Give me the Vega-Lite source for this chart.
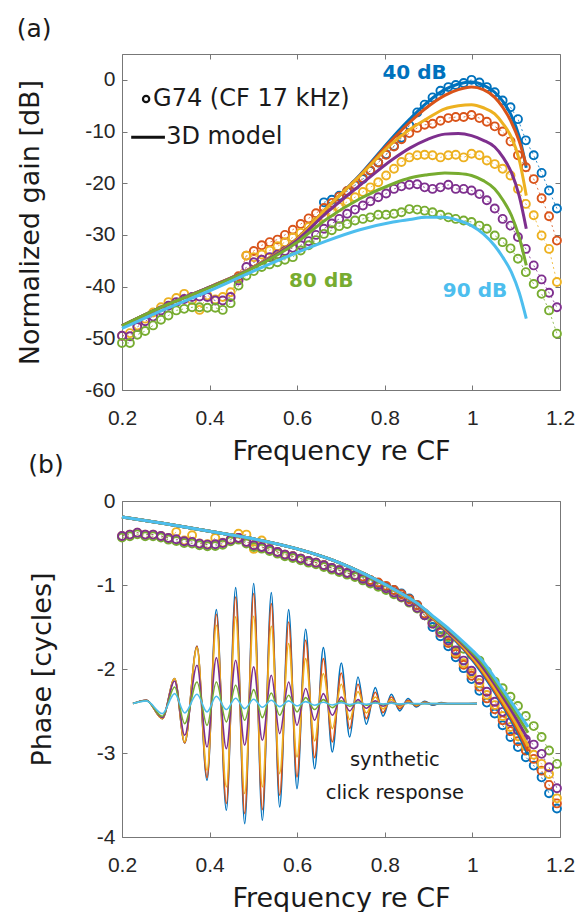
{
"$schema": "https://vega.github.io/schema/vega-lite/v6.json",
"padding": {"left": 16, "top": 16, "right": 0, "bottom": 0},
"background": "white",
"config": {
  "view": {"stroke": "#777777", "strokeWidth": 1},
  "axis": {"grid": false, "domain": false, "ticks": true, "tickColor": "#777777", "tickSize": -5, "tickWidth": 1, "labelFont": "Liberation Sans", "labelFontSize": 21, "labelColor": "#262626", "titleFont": "DejaVu Sans", "titleFontSize": 27, "titleFontWeight": "normal", "titleColor": "#1a1a1a", "labelFlush": false, "labelOverlap": false},
  "axisX": {"labelPadding": 22, "titlePadding": 10},
  "axisY": {"labelPadding": 12, "titlePadding": 40},
  "title": {"font": "DejaVu Sans", "fontSize": 25, "fontWeight": "normal", "anchor": "start", "color": "#1a1a1a"}
},
"datasets": {
"meas": [
{"s":40,"f":0.661,"g":-23.7,"p":-0.765},{"s":40,"f":0.679,"g":-23.2,"p":-0.797},{"s":40,"f":0.696,"g":-22.4,"p":-0.825},{"s":40,"f":0.714,"g":-21.6,"p":-0.857},{"s":40,"f":0.732,"g":-20.4,"p":-0.885},{"s":40,"f":0.75,"g":-19.2,"p":-0.91},{"s":40,"f":0.767,"g":-17.6,"p":-0.95},{"s":40,"f":0.785,"g":-16.0,"p":-0.98},{"s":40,"f":0.803,"g":-14.4,"p":-1.02},{"s":40,"f":0.821,"g":-12.8,"p":-1.06},{"s":40,"f":0.838,"g":-11.2,"p":-1.10},{"s":40,"f":0.856,"g":-8.8,"p":-1.16},{"s":40,"f":0.874,"g":-6.3,"p":-1.24},{"s":40,"f":0.891,"g":-4.8,"p":-1.36},{"s":40,"f":0.909,"g":-3.4,"p":-1.50},{"s":40,"f":0.927,"g":-2.1,"p":-1.61},{"s":40,"f":0.945,"g":-1.4,"p":-1.73},{"s":40,"f":0.962,"g":-1.0,"p":-1.86},{"s":40,"f":0.98,"g":-0.6,"p":-1.99},{"s":40,"f":0.998,"g":0.0,"p":-2.12},{"s":40,"f":1.016,"g":-0.5,"p":-2.26},{"s":40,"f":1.033,"g":-1.4,"p":-2.40},{"s":40,"f":1.051,"g":-2.4,"p":-2.53},{"s":40,"f":1.069,"g":-4.0,"p":-2.67},{"s":40,"f":1.087,"g":-5.3,"p":-2.81},{"s":40,"f":1.104,"g":-7.6,"p":-2.93},{"s":40,"f":1.122,"g":-11.7,"p":-3.05},{"s":40,"f":1.14,"g":-14.6,"p":-3.15},{"s":40,"f":1.158,"g":-18.0,"p":-3.29},{"s":40,"f":1.175,"g":-21.4,"p":-3.48},{"s":40,"f":1.193,"g":-24.9,"p":-3.66},
{"s":50,"f":0.466,"g":-38.0,"p":-0.44},{"s":50,"f":0.484,"g":-34.0,"p":-0.487},{"s":50,"f":0.501,"g":-33.1,"p":-0.527},{"s":50,"f":0.519,"g":-32.0,"p":-0.547},{"s":50,"f":0.537,"g":-31.4,"p":-0.575},{"s":50,"f":0.555,"g":-30.9,"p":-0.607},{"s":50,"f":0.572,"g":-30.0,"p":-0.638},{"s":50,"f":0.59,"g":-29.0,"p":-0.658},{"s":50,"f":0.608,"g":-27.9,"p":-0.686},{"s":50,"f":0.626,"g":-26.8,"p":-0.714},{"s":50,"f":0.643,"g":-25.8,"p":-0.734},{"s":50,"f":0.661,"g":-24.8,"p":-0.765},{"s":50,"f":0.679,"g":-23.8,"p":-0.797},{"s":50,"f":0.696,"g":-22.6,"p":-0.825},{"s":50,"f":0.714,"g":-21.5,"p":-0.857},{"s":50,"f":0.732,"g":-20.3,"p":-0.885},{"s":50,"f":0.75,"g":-19.0,"p":-0.90},{"s":50,"f":0.767,"g":-17.5,"p":-0.94},{"s":50,"f":0.785,"g":-16.0,"p":-0.97},{"s":50,"f":0.803,"g":-14.5,"p":-1.01},{"s":50,"f":0.821,"g":-12.9,"p":-1.06},{"s":50,"f":0.838,"g":-11.5,"p":-1.11},{"s":50,"f":0.856,"g":-10.3,"p":-1.17},{"s":50,"f":0.874,"g":-9.3,"p":-1.24},{"s":50,"f":0.891,"g":-8.7,"p":-1.34},{"s":50,"f":0.909,"g":-8.5,"p":-1.45},{"s":50,"f":0.927,"g":-7.9,"p":-1.57},{"s":50,"f":0.945,"g":-7.4,"p":-1.69},{"s":50,"f":0.962,"g":-7.2,"p":-1.82},{"s":50,"f":0.98,"g":-7.2,"p":-1.95},{"s":50,"f":0.998,"g":-6.8,"p":-2.08},{"s":50,"f":1.016,"g":-7.4,"p":-2.21},{"s":50,"f":1.033,"g":-8.1,"p":-2.35},{"s":50,"f":1.051,"g":-9.0,"p":-2.48},{"s":50,"f":1.069,"g":-10.0,"p":-2.61},{"s":50,"f":1.087,"g":-11.9,"p":-2.74},{"s":50,"f":1.104,"g":-14.6,"p":-2.86},{"s":50,"f":1.122,"g":-16.9,"p":-2.97},{"s":50,"f":1.14,"g":-19.2,"p":-3.07},{"s":50,"f":1.158,"g":-22.9,"p":-3.21},{"s":50,"f":1.175,"g":-26.4,"p":-3.38},{"s":50,"f":1.193,"g":-31.1,"p":-3.60},
{"s":60,"f":0.2,"g":-49.5,"p":-0.416},{"s":60,"f":0.218,"g":-49.0,"p":-0.4},{"s":60,"f":0.235,"g":-47.5,"p":-0.377},{"s":60,"f":0.253,"g":-46.2,"p":-0.4},{"s":60,"f":0.271,"g":-45.0,"p":-0.4},{"s":60,"f":0.289,"g":-44.0,"p":-0.416},{"s":60,"f":0.306,"g":-43.0,"p":-0.44},{"s":60,"f":0.324,"g":-42.2,"p":-0.37},{"s":60,"f":0.342,"g":-41.4,"p":-0.47},{"s":60,"f":0.36,"g":-42.6,"p":-0.408},{"s":60,"f":0.377,"g":-44.5,"p":-0.505},{"s":60,"f":0.395,"g":-41.7,"p":-0.515},{"s":60,"f":0.413,"g":-42.5,"p":-0.44},{"s":60,"f":0.43,"g":-42.0,"p":-0.495},{"s":60,"f":0.448,"g":-41.1,"p":-0.455},{"s":60,"f":0.466,"g":-38.5,"p":-0.39},{"s":60,"f":0.484,"g":-34.0,"p":-0.4},{"s":60,"f":0.501,"g":-34.3,"p":-0.57},{"s":60,"f":0.519,"g":-33.8,"p":-0.47},{"s":60,"f":0.537,"g":-33.0,"p":-0.575},{"s":60,"f":0.555,"g":-32.2,"p":-0.607},{"s":60,"f":0.572,"g":-31.4,"p":-0.638},{"s":60,"f":0.59,"g":-30.5,"p":-0.658},{"s":60,"f":0.608,"g":-29.6,"p":-0.686},{"s":60,"f":0.626,"g":-28.5,"p":-0.714},{"s":60,"f":0.643,"g":-27.5,"p":-0.734},{"s":60,"f":0.661,"g":-26.5,"p":-0.765},{"s":60,"f":0.679,"g":-25.6,"p":-0.797},{"s":60,"f":0.696,"g":-24.6,"p":-0.825},{"s":60,"f":0.714,"g":-23.6,"p":-0.857},{"s":60,"f":0.732,"g":-22.7,"p":-0.885},{"s":60,"f":0.75,"g":-21.7,"p":-0.925},{"s":60,"f":0.767,"g":-20.8,"p":-0.963},{"s":60,"f":0.785,"g":-19.8,"p":-1.0},{"s":60,"f":0.803,"g":-18.5,"p":-1.04},{"s":60,"f":0.821,"g":-17.2,"p":-1.09},{"s":60,"f":0.838,"g":-15.9,"p":-1.14},{"s":60,"f":0.856,"g":-15.0,"p":-1.2},{"s":60,"f":0.874,"g":-14.6,"p":-1.27},{"s":60,"f":0.891,"g":-14.5,"p":-1.36},{"s":60,"f":0.909,"g":-14.6,"p":-1.46},{"s":60,"f":0.927,"g":-15.0,"p":-1.56},{"s":60,"f":0.945,"g":-14.6,"p":-1.67},{"s":60,"f":0.962,"g":-14.5,"p":-1.8},{"s":60,"f":0.98,"g":-15.0,"p":-1.93},{"s":60,"f":0.998,"g":-14.3,"p":-2.05},{"s":60,"f":1.016,"g":-14.6,"p":-2.17},{"s":60,"f":1.033,"g":-15.6,"p":-2.31},{"s":60,"f":1.051,"g":-16.3,"p":-2.43},{"s":60,"f":1.069,"g":-17.2,"p":-2.56},{"s":60,"f":1.087,"g":-18.5,"p":-2.69},{"s":60,"f":1.104,"g":-21.1,"p":-2.8},{"s":60,"f":1.122,"g":-24.0,"p":-2.92},{"s":60,"f":1.14,"g":-26.2,"p":-3.02},{"s":60,"f":1.158,"g":-30.1,"p":-3.13},{"s":60,"f":1.175,"g":-32.7,"p":-3.25},{"s":60,"f":1.193,"g":-39.1,"p":-3.54},
{"s":70,"f":0.2,"g":-49.5,"p":-0.416},{"s":70,"f":0.218,"g":-49.6,"p":-0.4},{"s":70,"f":0.235,"g":-47.8,"p":-0.377},{"s":70,"f":0.253,"g":-46.7,"p":-0.4},{"s":70,"f":0.271,"g":-45.8,"p":-0.4},{"s":70,"f":0.289,"g":-44.6,"p":-0.416},{"s":70,"f":0.306,"g":-43.7,"p":-0.44},{"s":70,"f":0.324,"g":-43.0,"p":-0.456},{"s":70,"f":0.342,"g":-42.4,"p":-0.48},{"s":70,"f":0.36,"g":-42.0,"p":-0.487},{"s":70,"f":0.377,"g":-41.9,"p":-0.507},{"s":70,"f":0.395,"g":-42.0,"p":-0.519},{"s":70,"f":0.413,"g":-42.7,"p":-0.515},{"s":70,"f":0.43,"g":-42.7,"p":-0.5},{"s":70,"f":0.448,"g":-42.0,"p":-0.46},{"s":70,"f":0.466,"g":-38.8,"p":-0.44},{"s":70,"f":0.484,"g":-36.2,"p":-0.487},{"s":70,"f":0.501,"g":-35.3,"p":-0.527},{"s":70,"f":0.519,"g":-34.8,"p":-0.547},{"s":70,"f":0.537,"g":-34.3,"p":-0.575},{"s":70,"f":0.555,"g":-33.8,"p":-0.607},{"s":70,"f":0.572,"g":-33.1,"p":-0.638},{"s":70,"f":0.59,"g":-32.5,"p":-0.658},{"s":70,"f":0.608,"g":-32.0,"p":-0.686},{"s":70,"f":0.626,"g":-31.2,"p":-0.714},{"s":70,"f":0.643,"g":-30.0,"p":-0.734},{"s":70,"f":0.661,"g":-28.8,"p":-0.765},{"s":70,"f":0.679,"g":-27.8,"p":-0.797},{"s":70,"f":0.696,"g":-26.9,"p":-0.825},{"s":70,"f":0.714,"g":-25.9,"p":-0.857},{"s":70,"f":0.732,"g":-25.1,"p":-0.885},{"s":70,"f":0.75,"g":-24.3,"p":-0.925},{"s":70,"f":0.767,"g":-23.5,"p":-0.963},{"s":70,"f":0.785,"g":-22.7,"p":-1.0},{"s":70,"f":0.803,"g":-22.0,"p":-1.04},{"s":70,"f":0.821,"g":-21.1,"p":-1.09},{"s":70,"f":0.838,"g":-20.6,"p":-1.14},{"s":70,"f":0.856,"g":-20.3,"p":-1.2},{"s":70,"f":0.874,"g":-20.2,"p":-1.27},{"s":70,"f":0.891,"g":-20.8,"p":-1.36},{"s":70,"f":0.909,"g":-21.1,"p":-1.46},{"s":70,"f":0.927,"g":-20.8,"p":-1.56},{"s":70,"f":0.945,"g":-20.3,"p":-1.66},{"s":70,"f":0.962,"g":-21.1,"p":-1.78},{"s":70,"f":0.98,"g":-21.1,"p":-1.9},{"s":70,"f":0.998,"g":-21.4,"p":-2.02},{"s":70,"f":1.016,"g":-22.1,"p":-2.13},{"s":70,"f":1.033,"g":-23.3,"p":-2.27},{"s":70,"f":1.051,"g":-24.9,"p":-2.39},{"s":70,"f":1.069,"g":-26.9,"p":-2.51},{"s":70,"f":1.087,"g":-28.2,"p":-2.63},{"s":70,"f":1.104,"g":-30.4,"p":-2.73},{"s":70,"f":1.122,"g":-32.7,"p":-2.84},{"s":70,"f":1.14,"g":-35.9,"p":-2.9},{"s":70,"f":1.158,"g":-38.6,"p":-3.01},{"s":70,"f":1.175,"g":-41.2,"p":-3.17},{"s":70,"f":1.193,"g":-44.0,"p":-3.42},
{"s":80,"f":0.2,"g":-50.9,"p":-0.436},{"s":80,"f":0.218,"g":-50.9,"p":-0.42},{"s":80,"f":0.235,"g":-49.3,"p":-0.397},{"s":80,"f":0.253,"g":-48.6,"p":-0.42},{"s":80,"f":0.271,"g":-47.5,"p":-0.42},{"s":80,"f":0.289,"g":-46.4,"p":-0.436},{"s":80,"f":0.306,"g":-45.6,"p":-0.46},{"s":80,"f":0.324,"g":-44.6,"p":-0.476},{"s":80,"f":0.342,"g":-44.3,"p":-0.5},{"s":80,"f":0.36,"g":-44.0,"p":-0.507},{"s":80,"f":0.377,"g":-44.0,"p":-0.527},{"s":80,"f":0.395,"g":-44.1,"p":-0.539},{"s":80,"f":0.413,"g":-44.1,"p":-0.535},{"s":80,"f":0.43,"g":-44.5,"p":-0.52},{"s":80,"f":0.448,"g":-43.2,"p":-0.48},{"s":80,"f":0.466,"g":-39.8,"p":-0.46},{"s":80,"f":0.484,"g":-37.9,"p":-0.507},{"s":80,"f":0.501,"g":-37.0,"p":-0.547},{"s":80,"f":0.519,"g":-36.2,"p":-0.567},{"s":80,"f":0.537,"g":-35.7,"p":-0.595},{"s":80,"f":0.555,"g":-35.3,"p":-0.627},{"s":80,"f":0.572,"g":-34.8,"p":-0.658},{"s":80,"f":0.59,"g":-34.3,"p":-0.678},{"s":80,"f":0.608,"g":-33.0,"p":-0.706},{"s":80,"f":0.626,"g":-32.0,"p":-0.734},{"s":80,"f":0.643,"g":-31.0,"p":-0.754},{"s":80,"f":0.661,"g":-29.8,"p":-0.785},{"s":80,"f":0.679,"g":-29.1,"p":-0.817},{"s":80,"f":0.696,"g":-28.3,"p":-0.845},{"s":80,"f":0.714,"g":-27.9,"p":-0.877},{"s":80,"f":0.732,"g":-27.2,"p":-0.905},{"s":80,"f":0.75,"g":-26.9,"p":-0.945},{"s":80,"f":0.767,"g":-26.6,"p":-0.983},{"s":80,"f":0.785,"g":-26.1,"p":-1.02},{"s":80,"f":0.803,"g":-26.1,"p":-1.06},{"s":80,"f":0.821,"g":-25.9,"p":-1.11},{"s":80,"f":0.838,"g":-25.6,"p":-1.15},{"s":80,"f":0.856,"g":-25.0,"p":-1.21},{"s":80,"f":0.874,"g":-25.1,"p":-1.28},{"s":80,"f":0.891,"g":-25.3,"p":-1.36},{"s":80,"f":0.909,"g":-25.6,"p":-1.44},{"s":80,"f":0.927,"g":-26.1,"p":-1.53},{"s":80,"f":0.945,"g":-26.6,"p":-1.62},{"s":80,"f":0.962,"g":-26.9,"p":-1.7},{"s":80,"f":0.98,"g":-27.2,"p":-1.76},{"s":80,"f":0.998,"g":-27.5,"p":-1.83},{"s":80,"f":1.016,"g":-28.2,"p":-1.9},{"s":80,"f":1.033,"g":-28.8,"p":-2.03},{"s":80,"f":1.051,"g":-30.1,"p":-2.15},{"s":80,"f":1.069,"g":-31.4,"p":-2.23},{"s":80,"f":1.087,"g":-32.6,"p":-2.33},{"s":80,"f":1.104,"g":-34.6,"p":-2.44},{"s":80,"f":1.122,"g":-37.2,"p":-2.56},{"s":80,"f":1.14,"g":-39.5,"p":-2.68},{"s":80,"f":1.158,"g":-41.4,"p":-2.81},{"s":80,"f":1.175,"g":-44.6,"p":-2.97},{"s":80,"f":1.193,"g":-49.1,"p":-3.13}
],
"gm": [
{"s":40,"f":0.2,"g":-47.6},{"s":40,"f":0.3,"g":-43.6},{"s":40,"f":0.4,"g":-40.1},{"s":40,"f":0.5,"g":-36.2},{"s":40,"f":0.6,"g":-30.7},{"s":40,"f":0.666,"g":-24.9},{"s":40,"f":0.743,"g":-18.4},{"s":40,"f":0.819,"g":-11.0},{"s":40,"f":0.857,"g":-7.6},{"s":40,"f":0.895,"g":-4.5},{"s":40,"f":0.937,"g":-1.9},{"s":40,"f":0.968,"g":-0.8},{"s":40,"f":0.998,"g":-0.4},{"s":40,"f":1.025,"g":-1.0},{"s":40,"f":1.051,"g":-2.4},{"s":40,"f":1.07,"g":-4.2},{"s":40,"f":1.089,"g":-6.9},{"s":40,"f":1.107,"g":-11.0},{"s":40,"f":1.123,"g":-17.0},
{"s":50,"f":0.2,"g":-47.6},{"s":50,"f":0.3,"g":-43.6},{"s":50,"f":0.4,"g":-40.1},{"s":50,"f":0.5,"g":-36.2},{"s":50,"f":0.6,"g":-30.7},{"s":50,"f":0.666,"g":-24.9},{"s":50,"f":0.743,"g":-18.5},{"s":50,"f":0.819,"g":-11.4},{"s":50,"f":0.857,"g":-8.2},{"s":50,"f":0.895,"g":-5.4},{"s":50,"f":0.937,"g":-3.0},{"s":50,"f":0.968,"g":-1.9},{"s":50,"f":0.998,"g":-1.4},{"s":50,"f":1.025,"g":-1.9},{"s":50,"f":1.051,"g":-3.4},{"s":50,"f":1.07,"g":-5.4},{"s":50,"f":1.089,"g":-8.2},{"s":50,"f":1.107,"g":-11.9},{"s":50,"f":1.123,"g":-16.6},
{"s":60,"f":0.2,"g":-47.6},{"s":60,"f":0.3,"g":-43.6},{"s":60,"f":0.4,"g":-40.1},{"s":60,"f":0.5,"g":-36.2},{"s":60,"f":0.6,"g":-30.8},{"s":60,"f":0.666,"g":-24.9},{"s":60,"f":0.743,"g":-18.6},{"s":60,"f":0.819,"g":-12.1},{"s":60,"f":0.857,"g":-9.6},{"s":60,"f":0.895,"g":-7.6},{"s":60,"f":0.937,"g":-5.6},{"s":60,"f":0.968,"g":-5.0},{"s":60,"f":0.998,"g":-4.8},{"s":60,"f":1.025,"g":-5.4},{"s":60,"f":1.051,"g":-6.6},{"s":60,"f":1.07,"g":-8.5},{"s":60,"f":1.089,"g":-11.1},{"s":60,"f":1.107,"g":-15.5},{"s":60,"f":1.123,"g":-22.4},
{"s":70,"f":0.2,"g":-47.6},{"s":70,"f":0.3,"g":-43.6},{"s":70,"f":0.4,"g":-40.1},{"s":70,"f":0.5,"g":-36.3},{"s":70,"f":0.6,"g":-31.0},{"s":70,"f":0.666,"g":-25.8},{"s":70,"f":0.743,"g":-20.4},{"s":70,"f":0.819,"g":-15.3},{"s":70,"f":0.857,"g":-13.2},{"s":70,"f":0.895,"g":-11.6},{"s":70,"f":0.937,"g":-10.5},{"s":70,"f":0.968,"g":-10.4},{"s":70,"f":0.998,"g":-10.8},{"s":70,"f":1.025,"g":-11.7},{"s":70,"f":1.051,"g":-13.0},{"s":70,"f":1.07,"g":-15.0},{"s":70,"f":1.089,"g":-17.9},{"s":70,"f":1.107,"g":-22.5},{"s":70,"f":1.123,"g":-28.8},
{"s":80,"f":0.2,"g":-47.6},{"s":80,"f":0.3,"g":-43.6},{"s":80,"f":0.4,"g":-40.2},{"s":80,"f":0.5,"g":-36.4},{"s":80,"f":0.6,"g":-31.4},{"s":80,"f":0.666,"g":-27.0},{"s":80,"f":0.743,"g":-23.0},{"s":80,"f":0.819,"g":-20.1},{"s":80,"f":0.857,"g":-19.0},{"s":80,"f":0.895,"g":-18.4},{"s":80,"f":0.937,"g":-18.0},{"s":80,"f":0.968,"g":-18.1},{"s":80,"f":0.998,"g":-18.5},{"s":80,"f":1.025,"g":-19.5},{"s":80,"f":1.051,"g":-21.1},{"s":80,"f":1.07,"g":-23.3},{"s":80,"f":1.089,"g":-26.2},{"s":80,"f":1.107,"g":-30.5},{"s":80,"f":1.123,"g":-35.9},
{"s":90,"f":0.2,"g":-48.1},{"s":90,"f":0.3,"g":-44.3},{"s":90,"f":0.4,"g":-40.8},{"s":90,"f":0.5,"g":-37.0},{"s":90,"f":0.6,"g":-33.4},{"s":90,"f":0.666,"g":-31.2},{"s":90,"f":0.743,"g":-29.0},{"s":90,"f":0.819,"g":-27.5},{"s":90,"f":0.857,"g":-27.0},{"s":90,"f":0.895,"g":-26.6},{"s":90,"f":0.937,"g":-26.6},{"s":90,"f":0.968,"g":-27.2},{"s":90,"f":0.998,"g":-28.2},{"s":90,"f":1.025,"g":-29.8},{"s":90,"f":1.051,"g":-32.1},{"s":90,"f":1.07,"g":-34.4},{"s":90,"f":1.089,"g":-37.2},{"s":90,"f":1.107,"g":-41.2},{"s":90,"f":1.123,"g":-46.2}
],
"pm": [
{"s":40,"f":0.2,"p":-0.19},{"s":40,"f":0.3,"p":-0.27},{"s":40,"f":0.4,"p":-0.36},{"s":40,"f":0.5,"p":-0.45},{"s":40,"f":0.6,"p":-0.57},{"s":40,"f":0.684,"p":-0.71},{"s":40,"f":0.758,"p":-0.88},{"s":40,"f":0.834,"p":-1.10},{"s":40,"f":0.872,"p":-1.23},{"s":40,"f":0.91,"p":-1.40},{"s":40,"f":0.948,"p":-1.59},{"s":40,"f":0.986,"p":-1.80},{"s":40,"f":1.024,"p":-2.06},{"s":40,"f":1.062,"p":-2.37},{"s":40,"f":1.1,"p":-2.72},{"s":40,"f":1.127,"p":-3.02},
{"s":50,"f":0.2,"p":-0.19},{"s":50,"f":0.3,"p":-0.27},{"s":50,"f":0.4,"p":-0.36},{"s":50,"f":0.5,"p":-0.45},{"s":50,"f":0.6,"p":-0.57},{"s":50,"f":0.684,"p":-0.71},{"s":50,"f":0.758,"p":-0.88},{"s":50,"f":0.834,"p":-1.10},{"s":50,"f":0.872,"p":-1.23},{"s":50,"f":0.91,"p":-1.40},{"s":50,"f":0.948,"p":-1.58},{"s":50,"f":0.986,"p":-1.79},{"s":50,"f":1.024,"p":-2.04},{"s":50,"f":1.062,"p":-2.35},{"s":50,"f":1.1,"p":-2.69},{"s":50,"f":1.127,"p":-2.98},
{"s":60,"f":0.2,"p":-0.19},{"s":60,"f":0.3,"p":-0.27},{"s":60,"f":0.4,"p":-0.36},{"s":60,"f":0.5,"p":-0.45},{"s":60,"f":0.6,"p":-0.57},{"s":60,"f":0.684,"p":-0.71},{"s":60,"f":0.758,"p":-0.88},{"s":60,"f":0.834,"p":-1.10},{"s":60,"f":0.872,"p":-1.22},{"s":60,"f":0.91,"p":-1.39},{"s":60,"f":0.948,"p":-1.57},{"s":60,"f":0.986,"p":-1.77},{"s":60,"f":1.024,"p":-2.02},{"s":60,"f":1.062,"p":-2.32},{"s":60,"f":1.1,"p":-2.65},{"s":60,"f":1.127,"p":-2.92},
{"s":70,"f":0.2,"p":-0.19},{"s":70,"f":0.3,"p":-0.27},{"s":70,"f":0.4,"p":-0.36},{"s":70,"f":0.5,"p":-0.45},{"s":70,"f":0.6,"p":-0.57},{"s":70,"f":0.684,"p":-0.71},{"s":70,"f":0.758,"p":-0.88},{"s":70,"f":0.834,"p":-1.09},{"s":70,"f":0.872,"p":-1.22},{"s":70,"f":0.91,"p":-1.38},{"s":70,"f":0.948,"p":-1.56},{"s":70,"f":0.986,"p":-1.75},{"s":70,"f":1.024,"p":-1.98},{"s":70,"f":1.062,"p":-2.27},{"s":70,"f":1.1,"p":-2.59},{"s":70,"f":1.127,"p":-2.84},
{"s":80,"f":0.2,"p":-0.19},{"s":80,"f":0.3,"p":-0.27},{"s":80,"f":0.4,"p":-0.36},{"s":80,"f":0.5,"p":-0.45},{"s":80,"f":0.6,"p":-0.57},{"s":80,"f":0.684,"p":-0.71},{"s":80,"f":0.758,"p":-0.88},{"s":80,"f":0.834,"p":-1.09},{"s":80,"f":0.872,"p":-1.21},{"s":80,"f":0.91,"p":-1.38},{"s":80,"f":0.948,"p":-1.54},{"s":80,"f":0.986,"p":-1.73},{"s":80,"f":1.024,"p":-1.94},{"s":80,"f":1.062,"p":-2.23},{"s":80,"f":1.1,"p":-2.53},{"s":80,"f":1.127,"p":-2.76},
{"s":90,"f":0.2,"p":-0.19},{"s":90,"f":0.3,"p":-0.27},{"s":90,"f":0.4,"p":-0.36},{"s":90,"f":0.5,"p":-0.45},{"s":90,"f":0.6,"p":-0.57},{"s":90,"f":0.684,"p":-0.71},{"s":90,"f":0.758,"p":-0.88},{"s":90,"f":0.834,"p":-1.09},{"s":90,"f":0.872,"p":-1.21},{"s":90,"f":0.91,"p":-1.37},{"s":90,"f":0.948,"p":-1.53},{"s":90,"f":0.986,"p":-1.71},{"s":90,"f":1.024,"p":-1.91},{"s":90,"f":1.062,"p":-2.19},{"s":90,"f":1.1,"p":-2.48},{"s":90,"f":1.127,"p":-2.69}
],
"clk": [
{"s":40,"f":0.2251,"p":-2.412},{"s":40,"f":0.2556,"p":-2.372},{"s":40,"f":0.2921,"p":-2.591},{"s":40,"f":0.3202,"p":-2.114},{"s":40,"f":0.3431,"p":-2.88},{"s":40,"f":0.3712,"p":-1.729},{"s":40,"f":0.3941,"p":-3.325},{"s":40,"f":0.4154,"p":-1.293},{"s":40,"f":0.4382,"p":-3.682},{"s":40,"f":0.4595,"p":-1.031},{"s":40,"f":0.4801,"p":-3.841},{"s":40,"f":0.5006,"p":-0.983},{"s":40,"f":0.5204,"p":-3.801},{"s":40,"f":0.5409,"p":-1.091},{"s":40,"f":0.56,"p":-3.642},{"s":40,"f":0.5805,"p":-1.293},{"s":40,"f":0.5995,"p":-3.424},{"s":40,"f":0.6193,"p":-1.527},{"s":40,"f":0.6398,"p":-3.186},{"s":40,"f":0.6597,"p":-1.745},{"s":40,"f":0.6802,"p":-2.987},{"s":40,"f":0.7007,"p":-1.928},{"s":40,"f":0.7198,"p":-2.809},{"s":40,"f":0.7388,"p":-2.095},{"s":40,"f":0.7578,"p":-2.658},{"s":40,"f":0.7784,"p":-2.222},{"s":40,"f":0.7959,"p":-2.563},{"s":40,"f":0.8149,"p":-2.301},{"s":40,"f":0.8339,"p":-2.499},{"s":40,"f":0.853,"p":-2.352},{"s":40,"f":0.872,"p":-2.452},{"s":40,"f":0.891,"p":-2.384},{"s":40,"f":0.91,"p":-2.432},{"s":40,"f":0.9291,"p":-2.4},{"s":40,"f":0.9481,"p":-2.42},{"s":40,"f":1.0105,"p":-2.412},
{"s":50,"f":0.2251,"p":-2.412},{"s":50,"f":0.2556,"p":-2.372},{"s":50,"f":0.2921,"p":-2.591},{"s":50,"f":0.3202,"p":-2.114},{"s":50,"f":0.3431,"p":-2.88},{"s":50,"f":0.3712,"p":-1.729},{"s":50,"f":0.3941,"p":-3.293},{"s":50,"f":0.4154,"p":-1.349},{"s":50,"f":0.4382,"p":-3.602},{"s":50,"f":0.4595,"p":-1.142},{"s":50,"f":0.4801,"p":-3.722},{"s":50,"f":0.5006,"p":-1.102},{"s":50,"f":0.5204,"p":-3.674},{"s":50,"f":0.5409,"p":-1.222},{"s":50,"f":0.56,"p":-3.503},{"s":50,"f":0.5805,"p":-1.44},{"s":50,"f":0.5995,"p":-3.285},{"s":50,"f":0.6193,"p":-1.658},{"s":50,"f":0.6398,"p":-3.055},{"s":50,"f":0.6597,"p":-1.876},{"s":50,"f":0.6802,"p":-2.868},{"s":50,"f":0.7007,"p":-2.047},{"s":50,"f":0.7198,"p":-2.71},{"s":50,"f":0.7388,"p":-2.182},{"s":50,"f":0.7578,"p":-2.591},{"s":50,"f":0.7784,"p":-2.277},{"s":50,"f":0.7959,"p":-2.519},{"s":50,"f":0.8149,"p":-2.333},{"s":50,"f":0.8339,"p":-2.472},{"s":50,"f":0.853,"p":-2.372},{"s":50,"f":0.872,"p":-2.44},{"s":50,"f":0.891,"p":-2.392},{"s":50,"f":0.91,"p":-2.424},{"s":50,"f":0.9291,"p":-2.404},{"s":50,"f":0.9481,"p":-2.416},{"s":50,"f":1.0105,"p":-2.412},
{"s":60,"f":0.2251,"p":-2.412},{"s":60,"f":0.2556,"p":-2.372},{"s":60,"f":0.2921,"p":-2.591},{"s":60,"f":0.3202,"p":-2.114},{"s":60,"f":0.3431,"p":-2.868},{"s":60,"f":0.3712,"p":-1.745},{"s":60,"f":0.3941,"p":-3.206},{"s":60,"f":0.4154,"p":-1.479},{"s":60,"f":0.4382,"p":-3.404},{"s":60,"f":0.4595,"p":-1.38},{"s":60,"f":0.4801,"p":-3.483},{"s":60,"f":0.5006,"p":-1.372},{"s":60,"f":0.5204,"p":-3.404},{"s":60,"f":0.5409,"p":-1.491},{"s":60,"f":0.56,"p":-3.245},{"s":60,"f":0.5805,"p":-1.698},{"s":60,"f":0.5995,"p":-3.047},{"s":60,"f":0.6193,"p":-1.876},{"s":60,"f":0.6398,"p":-2.856},{"s":60,"f":0.6597,"p":-2.055},{"s":60,"f":0.6802,"p":-2.71},{"s":60,"f":0.7007,"p":-2.182},{"s":60,"f":0.7198,"p":-2.602},{"s":60,"f":0.7388,"p":-2.269},{"s":60,"f":0.7578,"p":-2.523},{"s":60,"f":0.7784,"p":-2.333},{"s":60,"f":0.7959,"p":-2.475},{"s":60,"f":0.8149,"p":-2.364},{"s":60,"f":0.8339,"p":-2.448},{"s":60,"f":0.853,"p":-2.388},{"s":60,"f":0.872,"p":-2.428},{"s":60,"f":0.891,"p":-2.4},{"s":60,"f":0.91,"p":-2.42},{"s":60,"f":0.9291,"p":-2.408},{"s":60,"f":0.9481,"p":-2.416},{"s":60,"f":1.0105,"p":-2.412},
{"s":70,"f":0.2251,"p":-2.412},{"s":70,"f":0.2556,"p":-2.372},{"s":70,"f":0.2921,"p":-2.579},{"s":70,"f":0.3202,"p":-2.142},{"s":70,"f":0.3431,"p":-2.789},{"s":70,"f":0.3712,"p":-1.956},{"s":70,"f":0.3941,"p":-2.928},{"s":70,"f":0.4154,"p":-1.864},{"s":70,"f":0.4382,"p":-2.948},{"s":70,"f":0.4595,"p":-1.896},{"s":70,"f":0.4801,"p":-2.908},{"s":70,"f":0.5006,"p":-1.975},{"s":70,"f":0.5204,"p":-2.849},{"s":70,"f":0.5409,"p":-2.075},{"s":70,"f":0.56,"p":-2.769},{"s":70,"f":0.5805,"p":-2.154},{"s":70,"f":0.5995,"p":-2.67},{"s":70,"f":0.6193,"p":-2.233},{"s":70,"f":0.6398,"p":-2.61},{"s":70,"f":0.6597,"p":-2.293},{"s":70,"f":0.6802,"p":-2.551},{"s":70,"f":0.7007,"p":-2.333},{"s":70,"f":0.7198,"p":-2.499},{"s":70,"f":0.7388,"p":-2.364},{"s":70,"f":0.7578,"p":-2.468},{"s":70,"f":0.7784,"p":-2.38},{"s":70,"f":0.7959,"p":-2.444},{"s":70,"f":0.8149,"p":-2.392},{"s":70,"f":0.8339,"p":-2.428},{"s":70,"f":0.853,"p":-2.4},{"s":70,"f":0.872,"p":-2.42},{"s":70,"f":0.891,"p":-2.408},{"s":70,"f":0.91,"p":-2.416},{"s":70,"f":0.9291,"p":-2.412},{"s":70,"f":0.9481,"p":-2.412},{"s":70,"f":1.0105,"p":-2.412},
{"s":80,"f":0.2251,"p":-2.412},{"s":80,"f":0.2556,"p":-2.376},{"s":80,"f":0.2921,"p":-2.563},{"s":80,"f":0.3202,"p":-2.214},{"s":80,"f":0.3431,"p":-2.65},{"s":80,"f":0.3712,"p":-2.154},{"s":80,"f":0.3941,"p":-2.67},{"s":80,"f":0.4154,"p":-2.154},{"s":80,"f":0.4382,"p":-2.63},{"s":80,"f":0.4595,"p":-2.194},{"s":80,"f":0.4801,"p":-2.61},{"s":80,"f":0.5006,"p":-2.245},{"s":80,"f":0.5204,"p":-2.579},{"s":80,"f":0.5409,"p":-2.285},{"s":80,"f":0.56,"p":-2.551},{"s":80,"f":0.5805,"p":-2.313},{"s":80,"f":0.5995,"p":-2.511},{"s":80,"f":0.6193,"p":-2.341},{"s":80,"f":0.6398,"p":-2.483},{"s":80,"f":0.6597,"p":-2.364},{"s":80,"f":0.6802,"p":-2.46},{"s":80,"f":0.7007,"p":-2.38},{"s":80,"f":0.7198,"p":-2.444},{"s":80,"f":0.7388,"p":-2.392},{"s":80,"f":0.7578,"p":-2.432},{"s":80,"f":0.7784,"p":-2.4},{"s":80,"f":0.7959,"p":-2.424},{"s":80,"f":0.8149,"p":-2.404},{"s":80,"f":0.8339,"p":-2.42},{"s":80,"f":0.853,"p":-2.408},{"s":80,"f":0.872,"p":-2.416},{"s":80,"f":0.891,"p":-2.412},{"s":80,"f":0.91,"p":-2.412},{"s":80,"f":0.9291,"p":-2.412},{"s":80,"f":0.9481,"p":-2.412},{"s":80,"f":1.0105,"p":-2.412},
{"s":90,"f":0.2251,"p":-2.412},{"s":90,"f":0.2556,"p":-2.38},{"s":90,"f":0.2921,"p":-2.531},{"s":90,"f":0.3202,"p":-2.293},{"s":90,"f":0.3431,"p":-2.523},{"s":90,"f":0.3712,"p":-2.301},{"s":90,"f":0.3941,"p":-2.511},{"s":90,"f":0.4154,"p":-2.325},{"s":90,"f":0.4382,"p":-2.483},{"s":90,"f":0.4595,"p":-2.349},{"s":90,"f":0.4801,"p":-2.472},{"s":90,"f":0.5006,"p":-2.36},{"s":90,"f":0.5204,"p":-2.456},{"s":90,"f":0.5409,"p":-2.372},{"s":90,"f":0.56,"p":-2.448},{"s":90,"f":0.5805,"p":-2.38},{"s":90,"f":0.5995,"p":-2.44},{"s":90,"f":0.6193,"p":-2.388},{"s":90,"f":0.6398,"p":-2.432},{"s":90,"f":0.6597,"p":-2.396},{"s":90,"f":0.6802,"p":-2.428},{"s":90,"f":0.7007,"p":-2.4},{"s":90,"f":0.7198,"p":-2.424},{"s":90,"f":0.7388,"p":-2.404},{"s":90,"f":0.7578,"p":-2.42},{"s":90,"f":0.7784,"p":-2.404},{"s":90,"f":0.7959,"p":-2.416},{"s":90,"f":0.8149,"p":-2.408},{"s":90,"f":0.8339,"p":-2.416},{"s":90,"f":0.853,"p":-2.408},{"s":90,"f":0.872,"p":-2.412},{"s":90,"f":0.891,"p":-2.412},{"s":90,"f":0.91,"p":-2.412},{"s":90,"f":0.9291,"p":-2.412},{"s":90,"f":0.9481,"p":-2.412},{"s":90,"f":1.0105,"p":-2.412}
]
},
"spacing": -13,
"vconcat": [
{
  "width": 438, "height": 336,
  "title": {"text": "(a)", "dx": 0, "offset": 12},
  "encoding": {
    "x": {"field": "f", "type": "quantitative", "scale": {"domain": [0.2, 1.2], "nice": false, "zero": false}, "axis": null},
    "y": {"field": "g", "type": "quantitative", "scale": {"domain": [-60, 5], "nice": false, "zero": false}, "axis": null}
  },
  "layer": [
    {"data": {"name": "meas"},
     "mark": {"type": "line", "strokeWidth": 0.8, "strokeDash": [2, 3]},
     "encoding": {
       "x": {"field": "f", "type": "quantitative", "scale": {"domain": [0.2, 1.2], "nice": false, "zero": false}, "axis": {"orient": "bottom", "values": [0.2,0.4,0.6,0.8,1,1.2], "format": "~g", "title": "Frequency re CF"}},
       "y": {"field": "g", "type": "quantitative", "scale": {"domain": [-60, 5], "nice": false, "zero": false}, "axis": {"orient": "left", "values": [-60,-50,-40,-30,-20,-10,0], "labelExpr": "replace(datum.label, '\u2212', '-')", "title": "Normalized gain [dB]"}},
       "color": {"field": "s", "type": "nominal", "scale": {"domain": [40,50,60,70,80,90], "range": ["#0072BD","#D95319","#EDB120","#7E2F8E","#77AC30","#4DBEEE"]}, "legend": null}
     }},
    {"data": {"name": "meas"},
     "mark": {"type": "point", "filled": false, "size": 64, "strokeWidth": 1.9, "opacity": 1},
     "encoding": {"color": {"field": "s", "type": "nominal", "legend": null}}},
    {"data": {"name": "gm"},
     "mark": {"type": "line", "strokeWidth": 3, "interpolate": "monotone"},
     "encoding": {
       "x": {"field": "f", "type": "quantitative", "scale": {"domain": [0.2, 1.2], "nice": false, "zero": false}, "axis": {"orient": "top", "labels": false, "title": null, "values": [0.2,0.4,0.6,0.8,1,1.2]}},
       "y": {"field": "g", "type": "quantitative", "scale": {"domain": [-60, 5], "nice": false, "zero": false}, "axis": {"orient": "right", "labels": false, "title": null, "values": [-60,-50,-40,-30,-20,-10,0]}},
       "color": {"field": "s", "type": "nominal", "legend": null}
     }},
    {"data": {"values": [{"f": 0.255, "g": -3.7}]},
     "mark": {"type": "point", "filled": false, "size": 40, "strokeWidth": 2.2, "color": "#111111", "opacity": 1}},
    {"data": {"values": [{"f": 0.221, "f2": 0.298, "g": -11.1}]},
     "mark": {"type": "rule", "strokeWidth": 3, "color": "#111111"},
     "encoding": {"x2": {"field": "f2"}}},
    {"data": {"values": [{"f": 0.271, "g": -3.7, "t": "G74 (CF 17 kHz)"}, {"f": 0.301, "g": -11.1, "t": "3D model"}]},
     "mark": {"type": "text", "align": "left", "baseline": "middle", "font": "DejaVu Sans", "fontSize": 24, "fontWeight": "normal", "color": "#1a1a1a"},
     "encoding": {"text": {"field": "t"}}},
    {"data": {"values": [{"f": 0.868, "g": 1.4, "t": "40 dB", "s": 40}, {"f": 0.655, "g": -39.0, "t": "80 dB", "s": 80}, {"f": 1.006, "g": -40.9, "t": "90 dB", "s": 90}]},
     "mark": {"type": "text", "align": "center", "baseline": "middle", "font": "DejaVu Sans", "fontSize": 20, "fontWeight": "bold"},
     "encoding": {"text": {"field": "t"}, "color": {"field": "s", "type": "nominal", "legend": null}}}
  ],
  "resolve": {"axis": {"x": "independent", "y": "independent"}}
},
{
  "width": 438, "height": 336,
  "title": {"text": "(b)", "dx": 0, "offset": 12},
  "encoding": {
    "x": {"field": "f", "type": "quantitative", "scale": {"domain": [0.2, 1.2], "nice": false, "zero": false}, "axis": null},
    "y": {"field": "p", "type": "quantitative", "scale": {"domain": [-4, 0], "nice": false, "zero": false}, "axis": null}
  },
  "layer": [
    {"data": {"name": "meas"},
     "mark": {"type": "line", "strokeWidth": 0.8, "strokeDash": [2, 3]},
     "encoding": {
       "x": {"field": "f", "type": "quantitative", "scale": {"domain": [0.2, 1.2], "nice": false, "zero": false}, "axis": {"orient": "bottom", "values": [0.2,0.4,0.6,0.8,1,1.2], "format": "~g", "title": "Frequency re CF"}},
       "y": {"field": "p", "type": "quantitative", "scale": {"domain": [-4, 0], "nice": false, "zero": false}, "axis": {"orient": "left", "values": [-4,-3,-2,-1,0], "labelExpr": "replace(datum.label, '\u2212', '-')", "title": "Phase [cycles]"}},
       "color": {"field": "s", "type": "nominal", "scale": {"domain": [40,50,60,70,80,90], "range": ["#0072BD","#D95319","#EDB120","#7E2F8E","#77AC30","#4DBEEE"]}, "legend": null}
     }},
    {"data": {"name": "meas"},
     "transform": [{"filter": "datum.s != 70"}],
     "mark": {"type": "point", "filled": false, "size": 64, "strokeWidth": 1.9, "opacity": 1},
     "encoding": {"color": {"field": "s", "type": "nominal", "legend": null}}},
    {"data": {"name": "meas"},
     "transform": [{"filter": "datum.s == 70"}],
     "mark": {"type": "point", "filled": false, "size": 64, "strokeWidth": 1.9, "opacity": 1},
     "encoding": {"color": {"field": "s", "type": "nominal", "legend": null}}},
    {"data": {"name": "pm"},
     "mark": {"type": "line", "strokeWidth": 3, "interpolate": "monotone"},
     "encoding": {
       "x": {"field": "f", "type": "quantitative", "scale": {"domain": [0.2, 1.2], "nice": false, "zero": false}, "axis": {"orient": "top", "labels": false, "title": null, "values": [0.2,0.4,0.6,0.8,1,1.2]}},
       "y": {"field": "p", "type": "quantitative", "scale": {"domain": [-4, 0], "nice": false, "zero": false}, "axis": {"orient": "right", "labels": false, "title": null, "values": [-4,-3,-2,-1,0]}},
       "color": {"field": "s", "type": "nominal", "legend": null}
     }},
    {"data": {"name": "clk"},
     "mark": {"type": "line", "strokeWidth": 1.6, "interpolate": "monotone"},
     "encoding": {"color": {"field": "s", "type": "nominal", "legend": null}}},
    {"data": {"values": [{"f": 0.823, "p": -3.087, "t": "synthetic"}, {"f": 0.823, "p": -3.48, "t": "click response"}]},
     "mark": {"type": "text", "align": "center", "baseline": "middle", "font": "DejaVu Sans", "fontSize": 19.5, "fontWeight": "normal", "color": "#1a1a1a"},
     "encoding": {"text": {"field": "t"}}}
  ],
  "resolve": {"axis": {"x": "independent", "y": "independent"}}
}
]
}
